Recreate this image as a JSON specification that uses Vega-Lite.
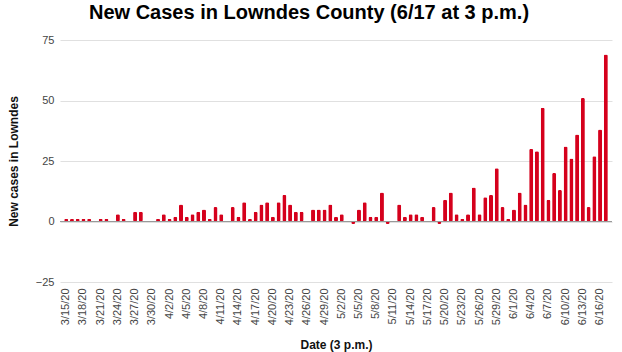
{
  "$schema": "https://vega.github.io/schema/vega-lite/v6.json",
  "width": 552,
  "height": 242,
  "autosize": {"type": "none"},
  "padding": {"left": 60, "top": 40, "right": 10, "bottom": 70},
  "background": "#ffffff",
  "title": {
    "text": "New Cases in Lowndes County (6/17 at 3 p.m.)",
    "font": "Liberation Sans",
    "fontSize": 20,
    "fontWeight": "bold",
    "color": "#000000",
    "anchor": "middle",
    "dx": -27,
    "offset": 11
  },
  "config": {
    "view": {"stroke": null},
    "axis": {"labelFont": "Liberation Sans", "titleFont": "Liberation Sans"}
  },
  "data": {
    "values": [
      {"date": "3/15/20", "cases": 1},
      {"date": "3/16/20", "cases": 1},
      {"date": "3/17/20", "cases": 1},
      {"date": "3/18/20", "cases": 1},
      {"date": "3/19/20", "cases": 1},
      {"date": "3/20/20", "cases": 0},
      {"date": "3/21/20", "cases": 1},
      {"date": "3/22/20", "cases": 1},
      {"date": "3/23/20", "cases": 0},
      {"date": "3/24/20", "cases": 3},
      {"date": "3/25/20", "cases": 1},
      {"date": "3/26/20", "cases": 0},
      {"date": "3/27/20", "cases": 4},
      {"date": "3/28/20", "cases": 4},
      {"date": "3/29/20", "cases": 0},
      {"date": "3/30/20", "cases": 0},
      {"date": "3/31/20", "cases": 1},
      {"date": "4/1/20", "cases": 3},
      {"date": "4/2/20", "cases": 1},
      {"date": "4/3/20", "cases": 2},
      {"date": "4/4/20", "cases": 7},
      {"date": "4/5/20", "cases": 2},
      {"date": "4/6/20", "cases": 3},
      {"date": "4/7/20", "cases": 4},
      {"date": "4/8/20", "cases": 5},
      {"date": "4/9/20", "cases": 1},
      {"date": "4/10/20", "cases": 6},
      {"date": "4/11/20", "cases": 3},
      {"date": "4/12/20", "cases": 0},
      {"date": "4/13/20", "cases": 6},
      {"date": "4/14/20", "cases": 2},
      {"date": "4/15/20", "cases": 8},
      {"date": "4/16/20", "cases": 1},
      {"date": "4/17/20", "cases": 4},
      {"date": "4/18/20", "cases": 7},
      {"date": "4/19/20", "cases": 8},
      {"date": "4/20/20", "cases": 2},
      {"date": "4/21/20", "cases": 8},
      {"date": "4/22/20", "cases": 11},
      {"date": "4/23/20", "cases": 7},
      {"date": "4/24/20", "cases": 4},
      {"date": "4/25/20", "cases": 4},
      {"date": "4/26/20", "cases": 0},
      {"date": "4/27/20", "cases": 5},
      {"date": "4/28/20", "cases": 5},
      {"date": "4/29/20", "cases": 5},
      {"date": "4/30/20", "cases": 7},
      {"date": "5/1/20", "cases": 2},
      {"date": "5/2/20", "cases": 3},
      {"date": "5/3/20", "cases": 0},
      {"date": "5/4/20", "cases": -1},
      {"date": "5/5/20", "cases": 5},
      {"date": "5/6/20", "cases": 8},
      {"date": "5/7/20", "cases": 2},
      {"date": "5/8/20", "cases": 2},
      {"date": "5/9/20", "cases": 12},
      {"date": "5/10/20", "cases": -1},
      {"date": "5/11/20", "cases": 0},
      {"date": "5/12/20", "cases": 7},
      {"date": "5/13/20", "cases": 2},
      {"date": "5/14/20", "cases": 3},
      {"date": "5/15/20", "cases": 3},
      {"date": "5/16/20", "cases": 2},
      {"date": "5/17/20", "cases": 0},
      {"date": "5/18/20", "cases": 6},
      {"date": "5/19/20", "cases": -1},
      {"date": "5/20/20", "cases": 9},
      {"date": "5/21/20", "cases": 12},
      {"date": "5/22/20", "cases": 3},
      {"date": "5/23/20", "cases": 1},
      {"date": "5/24/20", "cases": 3},
      {"date": "5/25/20", "cases": 14},
      {"date": "5/26/20", "cases": 3},
      {"date": "5/27/20", "cases": 10},
      {"date": "5/28/20", "cases": 11},
      {"date": "5/29/20", "cases": 22},
      {"date": "5/30/20", "cases": 6},
      {"date": "5/31/20", "cases": 1},
      {"date": "6/1/20", "cases": 5},
      {"date": "6/2/20", "cases": 12},
      {"date": "6/3/20", "cases": 7},
      {"date": "6/4/20", "cases": 30},
      {"date": "6/5/20", "cases": 29},
      {"date": "6/6/20", "cases": 47},
      {"date": "6/7/20", "cases": 9},
      {"date": "6/8/20", "cases": 20},
      {"date": "6/9/20", "cases": 13},
      {"date": "6/10/20", "cases": 31},
      {"date": "6/11/20", "cases": 26},
      {"date": "6/12/20", "cases": 36},
      {"date": "6/13/20", "cases": 51},
      {"date": "6/14/20", "cases": 6},
      {"date": "6/15/20", "cases": 27},
      {"date": "6/16/20", "cases": 38},
      {"date": "6/17/20", "cases": 69}
    ]
  },
  "layer": [
    {
      "mark": {"type": "bar", "color": "#d5001c", "cornerRadius": 1.5},
      "encoding": {
        "x": {
          "field": "date",
          "type": "nominal",
          "sort": null,
          "scale": {"paddingInner": 0.3, "paddingOuter": 0.73},
          "axis": {
            "values": ["3/15/20","3/18/20","3/21/20","3/24/20","3/27/20","3/30/20","4/2/20","4/5/20","4/8/20","4/11/20","4/14/20","4/17/20","4/20/20","4/23/20","4/26/20","4/29/20","5/2/20","5/5/20","5/8/20","5/11/20","5/14/20","5/17/20","5/20/20","5/23/20","5/26/20","5/29/20","6/1/20","6/4/20","6/7/20","6/10/20","6/13/20","6/16/20"],
            "labelAngle": -90,
            "labelFontSize": 11,
            "labelColor": "#444444",
            "labelPadding": 6,
            "domain": false,
            "ticks": false,
            "title": "Date (3 p.m.)",
            "titleFontSize": 12,
            "titleFontWeight": "bold",
            "titleColor": "#111111",
            "titlePadding": 15
          }
        },
        "y": {
          "field": "cases",
          "type": "quantitative",
          "scale": {"domain": [-25, 75], "nice": false, "zero": false},
          "axis": {
            "values": [-25, 0, 25, 50, 75],
            "labelFontSize": 11,
            "labelColor": "#444444",
            "labelPadding": 6,
            "domain": false,
            "ticks": false,
            "gridColor": "#e0e0e0",
            "title": "New cases in Lowndes",
            "titleFontSize": 12,
            "titleFontWeight": "bold",
            "titleColor": "#111111",
            "titlePadding": 15
          }
        }
      }
    },
    {
      "mark": {"type": "rule", "color": "#999999", "strokeWidth": 1.2},
      "encoding": {"y": {"datum": 0}}
    }
  ]
}
